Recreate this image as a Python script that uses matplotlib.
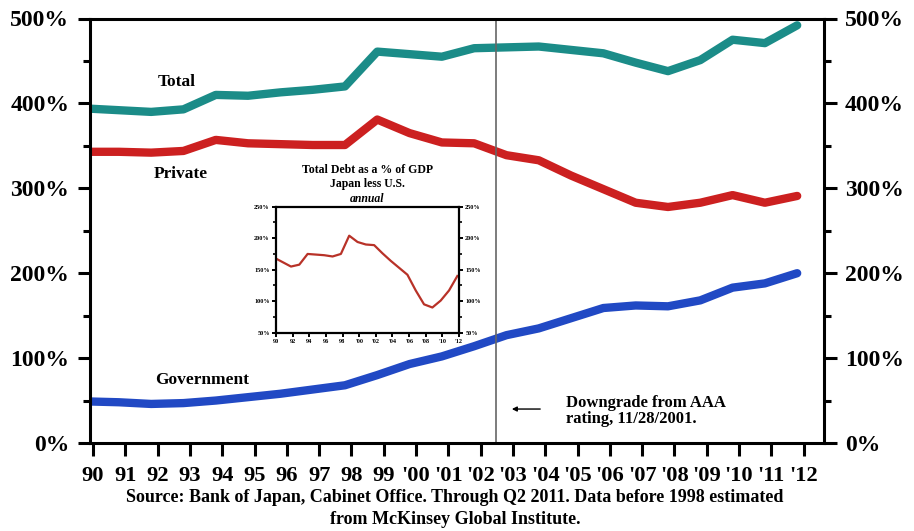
import matplotlib
matplotlib.use("Agg")
import matplotlib.pyplot as plt
from matplotlib.ticker import MultipleLocator, FuncFormatter

# ---- data ----
tick_labels = ["90", "91", "92", "93", "94", "95", "96", "97", "98", "99",
               "'00", "'01", "'02", "'03", "'04", "'05", "'06", "'07", "'08", "'09",
               "'10", "'11", "'12"]
# annual observations, taken near year end (position = year index - 0.2)
obs_years = list(range(1990, 2013))
total = [394, 392, 390, 393, 410, 409, 413, 416, 420, 461, 458, 455, 465,
         466, 467, 463, 459, 448, 438, 451, 475, 471, 492]
private = [343, 343, 342, 344, 357, 353, 352, 351, 351, 381, 365, 354, 353,
           339, 333, 315, 299, 283, 278, 283, 292, 283, 291]
government = [49, 48, 46, 47, 50, 54, 58, 63, 68, 80, 93, 102, 114,
              127, 135, 147, 159, 162, 161, 168, 183, 188, 200]
japan_less_us = [169, 162, 155, 158, 175, 174, 173, 171, 175, 204, 194, 190, 189,
                 176, 164, 153, 142, 117, 95, 90, 101, 117, 140]
inset_tick_labels = ["90", "92", "94", "96", "98", "'00", "'02", "'04", "'06", "'08", "'10", "'12"]
downgrade_pos = 12.47

serif = ["Liberation Serif", "DejaVu Serif"]
plt.rcParams["font.family"] = serif
plt.rcParams["font.weight"] = "bold"

fig = plt.figure(figsize=(9.14, 5.31), dpi=100)
ax = fig.add_axes([90 / 914, 1 - 443 / 531, 734 / 914, 424.5 / 531])

xpos = [y - 1990 - 0.2 for y in obs_years]
lw = 6
ax.plot(xpos, total, color="#1b8c88", lw=lw, solid_capstyle="round", solid_joinstyle="round")
ax.plot(xpos, private, color="#cc2020", lw=lw, solid_capstyle="round", solid_joinstyle="round")
ax.plot(xpos, government, color="#2149c4", lw=lw, solid_capstyle="round", solid_joinstyle="round")

ax.set_xlim(-0.093, 22.63)
ax.set_ylim(0, 500)

ax.set_xticks(range(len(tick_labels)))
ax.set_xticklabels(tick_labels)
ax.yaxis.set_major_locator(MultipleLocator(100))
ax.yaxis.set_minor_locator(MultipleLocator(50))
ax.yaxis.set_major_formatter(FuncFormatter(lambda v, p: f"{int(v)}%"))

for s in ax.spines.values():
    s.set_linewidth(2.2)
ax.tick_params(axis="y", which="major", length=9, width=2.2, direction="out",
               left=True, right=True, labelleft=True, labelright=True,
               labelsize=17, pad=6)
ax.tick_params(axis="y", which="minor", length=5, width=2.2, direction="out",
               left=True, right=True)
ax.tick_params(axis="x", which="major", length=9, width=2.2, direction="out",
               labelsize=16.2, pad=7.5)
for lab in ax.get_xticklabels() + ax.get_yticklabels():
    lab.set_fontweight("bold")
for lab in ax.yaxis.get_ticklabels(which="major"):
    lab.set_fontweight("bold")

ax.axvline(downgrade_pos, color="#666666", lw=1.2)

ax.text(2.6, 425, "Total", fontsize=12.5, fontweight="bold", ha="center", va="center")
ax.text(2.72, 317, "Private", fontsize=12.5, fontweight="bold", ha="center", va="center")
ax.text(3.37, 74, "Government", fontsize=12.5, fontweight="bold", ha="center", va="center")

ax.annotate("", xy=(12.88, 40), xytext=(13.93, 40),
            arrowprops=dict(arrowstyle="-|>", color="black", lw=1.0,
                            mutation_scale=7))
ax.text(14.64, 57, "Downgrade from AAA\nrating, 11/28/2001.", fontsize=12,
        fontweight="bold", ha="left", va="top", linespacing=1.05)

fig.text(0.498, 1 - 498 / 531,
         "Source: Bank of Japan, Cabinet Office. Through Q2 2011. Data before 1998 estimated",
         ha="center", va="center", fontsize=13, fontweight="bold")
fig.text(0.498, 1 - 520 / 531, "from McKinsey Global Institute.",
         ha="center", va="center", fontsize=13, fontweight="bold")

# ---- inset ----
ins = fig.add_axes([276 / 914, 1 - 332.7 / 531, 183 / 914, 126 / 531])
ins.plot(xpos, japan_less_us, color="#b83228", lw=1.6)
ins.set_xlim(0, 22)
ins.set_ylim(50, 250)
ins.set_xticks(range(0, 23, 2))
ins.set_xticklabels(inset_tick_labels)
ins.yaxis.set_major_locator(MultipleLocator(50))
ins.yaxis.set_minor_locator(MultipleLocator(25))
ins.yaxis.set_major_formatter(FuncFormatter(lambda v, p: f"{int(v)}%"))
for s in ins.spines.values():
    s.set_linewidth(1.6)
ins.tick_params(axis="both", which="major", length=3, width=1.4, labelsize=4.5, pad=1.5,
                left=True, right=True, labelright=True)
ins.tick_params(axis="y", which="minor", length=2, width=1.2, left=True, right=True)
ins.text(0.5, 1.135, "Total Debt as a % of GDP\nJapan less U.S.", transform=ins.transAxes,
         ha="center", va="bottom", fontsize=8.5, fontweight="bold", linespacing=1.15)
ins.text(0.5, 1.015, "annual", transform=ins.transAxes, ha="center", va="bottom",
         fontsize=8.5, fontweight="bold", style="italic")

fig.savefig("out.png", dpi=100)
